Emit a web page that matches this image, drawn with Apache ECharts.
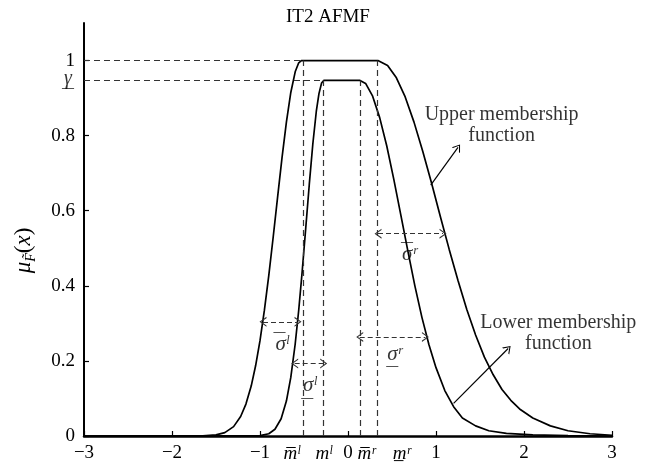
<!DOCTYPE html>
<html>
<head>
<meta charset="utf-8">
<script src="https://cdn.jsdelivr.net/npm/echarts@6/dist/echarts.min.js"></script>
<style>
html, body { margin: 0; background: #fff; }
#chart { width: 663px; height: 470px; }
</style>
</head>
<body>
<div id="chart"></div>
<script>
// upper membership function
var upperX = [-3, -1.65, -1.50, -1.40, -1.30, -1.22, -1.16, -1.10, -1.05, -1.00, -0.95, -0.90, -0.85, -0.80, -0.75, -0.70, -0.65, -0.60, -0.56, -0.53,
    0.34, 0.45, 0.55, 0.65, 0.75, 0.85, 0.95, 1.05, 1.15, 1.25, 1.35, 1.45, 1.55, 1.65, 1.75, 1.85, 1.95, 2.10, 2.30, 2.50, 2.75, 3];
var upperY = [0, 0.0004, 0.003, 0.009, 0.025, 0.052, 0.085, 0.133, 0.187, 0.254, 0.335, 0.428, 0.530, 0.636, 0.741, 0.836, 0.915, 0.970, 0.994, 1.0,
    1.0, 0.987, 0.954, 0.903, 0.836, 0.758, 0.673, 0.584, 0.497, 0.414, 0.337, 0.269, 0.210, 0.163, 0.124, 0.095, 0.072, 0.048, 0.027, 0.014, 0.006, 0.002];
// lower membership function
var lowerX = [-3, -1.0, -0.90, -0.83, -0.76, -0.70, -0.65, -0.60, -0.56, -0.52, -0.48, -0.44, -0.40, -0.36, -0.33, -0.30, -0.276,
    0.137, 0.20, 0.28, 0.36, 0.44, 0.52, 0.60, 0.68, 0.76, 0.84, 0.92, 1.00, 1.10, 1.20, 1.30, 1.45, 1.60, 1.80, 2.10, 2.50, 3];
var lowerY = [0, 0.001, 0.006, 0.018, 0.046, 0.093, 0.156, 0.245, 0.335, 0.440, 0.554, 0.670, 0.777, 0.865, 0.912, 0.940, 0.947,
    0.947, 0.939, 0.905, 0.848, 0.773, 0.684, 0.589, 0.493, 0.400, 0.316, 0.243, 0.182, 0.121, 0.078, 0.048, 0.027, 0.014, 0.007, 0.003, 0.001, 0];

var gamma = 0.947;
// m-bar-l, m-l, m-r, m-bar-r (dashed verticals) and their heights
var guideX = [-0.51, -0.276, 0.137, 0.334];
var guideTop = [1, gamma, gamma, 1];

// tick labels
var xTicks = [-3, -2, -1, 0, 1, 2, 3];
var xNames = [-0.64, -0.277, 0.21, 0.61];
var xNameText = ['m\u0305\u02e1', 'm\u02e1', 'm\u0305\u02b3', 'm\u0332\u02b3'];
var yTicks = [0, 0.2, 0.4, 0.6, 0.8, 1];

// sigma arrows (dashed, both ends)
var sigX1 = [-0.966, -0.606, 0.133, 0.341];
var sigX2 = [-0.568, -0.276, 0.88, 1.08];
var sigY = [0.304, 0.193, 0.264, 0.539];

// pointer arrows to the curve names
var ptrX1 = [0.94, 1.20];
var ptrY1 = [0.668, 0.087];
var ptrX2 = [1.25, 1.82];
var ptrY2 = [0.769, 0.233];

// text notes (bar: o = over, u = under)
var noteX = [1.745, 2.39, -0.75, -0.436, 0.53, 0.70];
var noteY = [0.827, 0.274, 0.25, 0.128, 0.213, 0.49];
var noteText = ['Upper membership\nfunction', 'Lower membership\nfunction',
    '{o|\u2014}\n{s|\u03c3\u02e1}', '{s|\u03c3\u02e1}\n{u|\u2014}', '{s|\u03c3\u02b3}\n{u|\u2014}', '{o|\u2014}\n{s|\u03c3\u02b3}'];

var font = 'Liberation Serif';
var chev = 'path://M0,8 L5,0 L10,8 L8.7,8 L5,2 L1.3,8 Z';
var barStyle = { fontFamily: font, fontSize: 12, fontWeight: 'bold', color: '#000', lineHeight: 4, padding: [0, 5, 0, 0] };

function zip(a, b) {
    var out = [];
    for (var i = 0; i < a.length; i++) out.push([a[i], b[i]]);
    return out;
}

var guideLines = [];
for (var i = 0; i < guideX.length; i++) {
    guideLines.push([{ coord: [guideX[i], 0] }, { coord: [guideX[i], guideTop[i]] }]);
}
guideLines.push([{ coord: [-3, 1] }, { coord: [guideX[0], 1] }]);
guideLines.push([{ coord: [-3, gamma] }, { coord: [guideX[1], gamma] }]);

var sigLines = [];
for (var i = 0; i < sigX1.length; i++) {
    sigLines.push([{ coord: [sigX1[i], sigY[i]] }, { coord: [sigX2[i], sigY[i]] }]);
}
var ptrLines = [];
for (var i = 0; i < ptrX1.length; i++) {
    ptrLines.push([{ coord: [ptrX1[i], ptrY1[i]] }, { coord: [ptrX2[i], ptrY2[i]] }]);
}

function fmtNum(v) {
    var s = Math.abs(v) < 1e-9 ? '0' : (Math.round(Math.abs(v) * 10) / 10).toString();
    return v < 0 ? '\u2212' + s : s;
}

var option = {
    animation: false,
    backgroundColor: '#fff',
    title: {
        text: 'IT2 AFMF',
        left: 281,
        top: 3,
        textStyle: { fontFamily: font, fontSize: 19, fontWeight: 'normal', color: '#000' }
    },
    grid: { left: 84, right: 51, top: 23, bottom: 34, outerBoundsMode: 'none' },
    xAxis: {
        type: 'value',
        min: -3,
        max: 3,
        interval: 1,
        splitLine: { show: false },
        axisLine: { lineStyle: { color: '#000', width: 2.5 } },
        axisTick: { inside: true, length: 5, lineStyle: { color: '#000', width: 1.2 }, customValues: xTicks },
        axisLabel: {
            customValues: xTicks.concat(xNames).sort(function (a, b) { return a - b; }),
            hideOverlap: false,
            margin: 8,
            color: '#000',
            fontFamily: font,
            fontSize: 19,
            formatter: function (v) {
                var k = xNames.indexOf(v);
                if (k >= 0) return '{m|' + xNameText[k] + '}';
                return fmtNum(v);
            },
            rich: { m: { fontFamily: font, fontSize: 19, fontStyle: 'italic', color: '#000' } }
        }
    },
    yAxis: {
        type: 'value',
        min: 0,
        max: 1.1,
        splitLine: { show: false },
        axisLine: { onZero: false, lineStyle: { color: '#000', width: 2 } },
        axisTick: { inside: true, length: 5, lineStyle: { color: '#000', width: 1.2 }, customValues: yTicks },
        axisLabel: {
            customValues: yTicks,
            margin: 9,
            color: '#000',
            fontFamily: font,
            fontSize: 19,
            formatter: fmtNum
        },
        name: '{mu|\u03bc}{sub|F\u0303}{p|(}{mu|x}{p|)}',
        nameLocation: 'middle',
        nameRotate: 90,
        nameGap: 46,
        nameTextStyle: {
            padding: [0, 42, 0, 0],
            rich: {
                mu: { fontFamily: font, fontSize: 23, fontStyle: 'italic', color: '#000', lineHeight: 28 },
                p: { fontFamily: font, fontSize: 23, color: '#000', lineHeight: 28 },
                sub: { fontFamily: font, fontSize: 14, fontStyle: 'italic', color: '#000', lineHeight: 16, verticalAlign: 'bottom' }
            }
        }
    },
    series: [
        {
            name: 'Upper membership function',
            type: 'line',
            data: zip(upperX, upperY),
            showSymbol: false,
            smooth: false,
            lineStyle: { color: '#000', width: 1.7 },
            z: 3
        },
        {
            name: 'Lower membership function',
            type: 'line',
            data: zip(lowerX, lowerY),
            showSymbol: false,
            smooth: false,
            lineStyle: { color: '#000', width: 1.7 },
            z: 3
        },
        {
            name: 'guides',
            type: 'line',
            data: [],
            markLine: {
                silent: true,
                symbol: ['none', 'none'],
                label: { show: false },
                emphasis: { disabled: true },
                lineStyle: { color: '#333', type: [6, 4], width: 1.2 },
                data: guideLines
            }
        },
        {
            name: 'sigma',
            type: 'line',
            data: [],
            markLine: {
                silent: true,
                symbol: [chev, chev],
                symbolSize: [10, 7],
                label: { show: false },
                emphasis: { disabled: true },
                lineStyle: { color: '#333', type: [5, 3], width: 1.2 },
                data: sigLines
            }
        },
        {
            name: 'pointers',
            type: 'line',
            data: [],
            markLine: {
                silent: true,
                symbol: ['none', chev],
                symbolSize: [10, 7],
                label: { show: false },
                emphasis: { disabled: true },
                lineStyle: { color: '#000', type: 'solid', width: 1.2 },
                data: ptrLines
            }
        },
        {
            name: 'notes',
            type: 'scatter',
            data: zip(noteX, noteY),
            symbolSize: 0,
            silent: true,
            label: {
                show: true,
                position: 'inside',
                color: '#000',
                fontFamily: font,
                fontSize: 20,
                lineHeight: 21,
                align: 'center',
                verticalAlign: 'middle',
                formatter: function (p) { return noteText[p.dataIndex]; },
                rich: {
                    s: { fontFamily: font, fontSize: 21, fontStyle: 'italic', color: '#000', lineHeight: 20 },
                    o: barStyle,
                    u: barStyle
                }
            }
        },
        {
            // gamma tick label beside the y axis
            name: 'gamma',
            type: 'scatter',
            data: [[-3, gamma]],
            symbolSize: 0,
            silent: true,
            clip: false,
            label: {
                show: true,
                position: 'left',
                distance: 10,
                color: '#000',
                align: 'right',
                verticalAlign: 'middle',
                formatter: '{g|\u03b3}\n{u|\u2014}',
                rich: {
                    g: { fontFamily: font, fontSize: 20, fontStyle: 'italic', color: '#000', lineHeight: 14, align: 'center' },
                    u: { fontFamily: font, fontSize: 12, fontWeight: 'bold', color: '#000', lineHeight: 4, align: 'center' }
                }
            }
        }
    ]
};

var chart = echarts.init(document.getElementById('chart'));
chart.setOption(option);
</script>
</body>
</html>
